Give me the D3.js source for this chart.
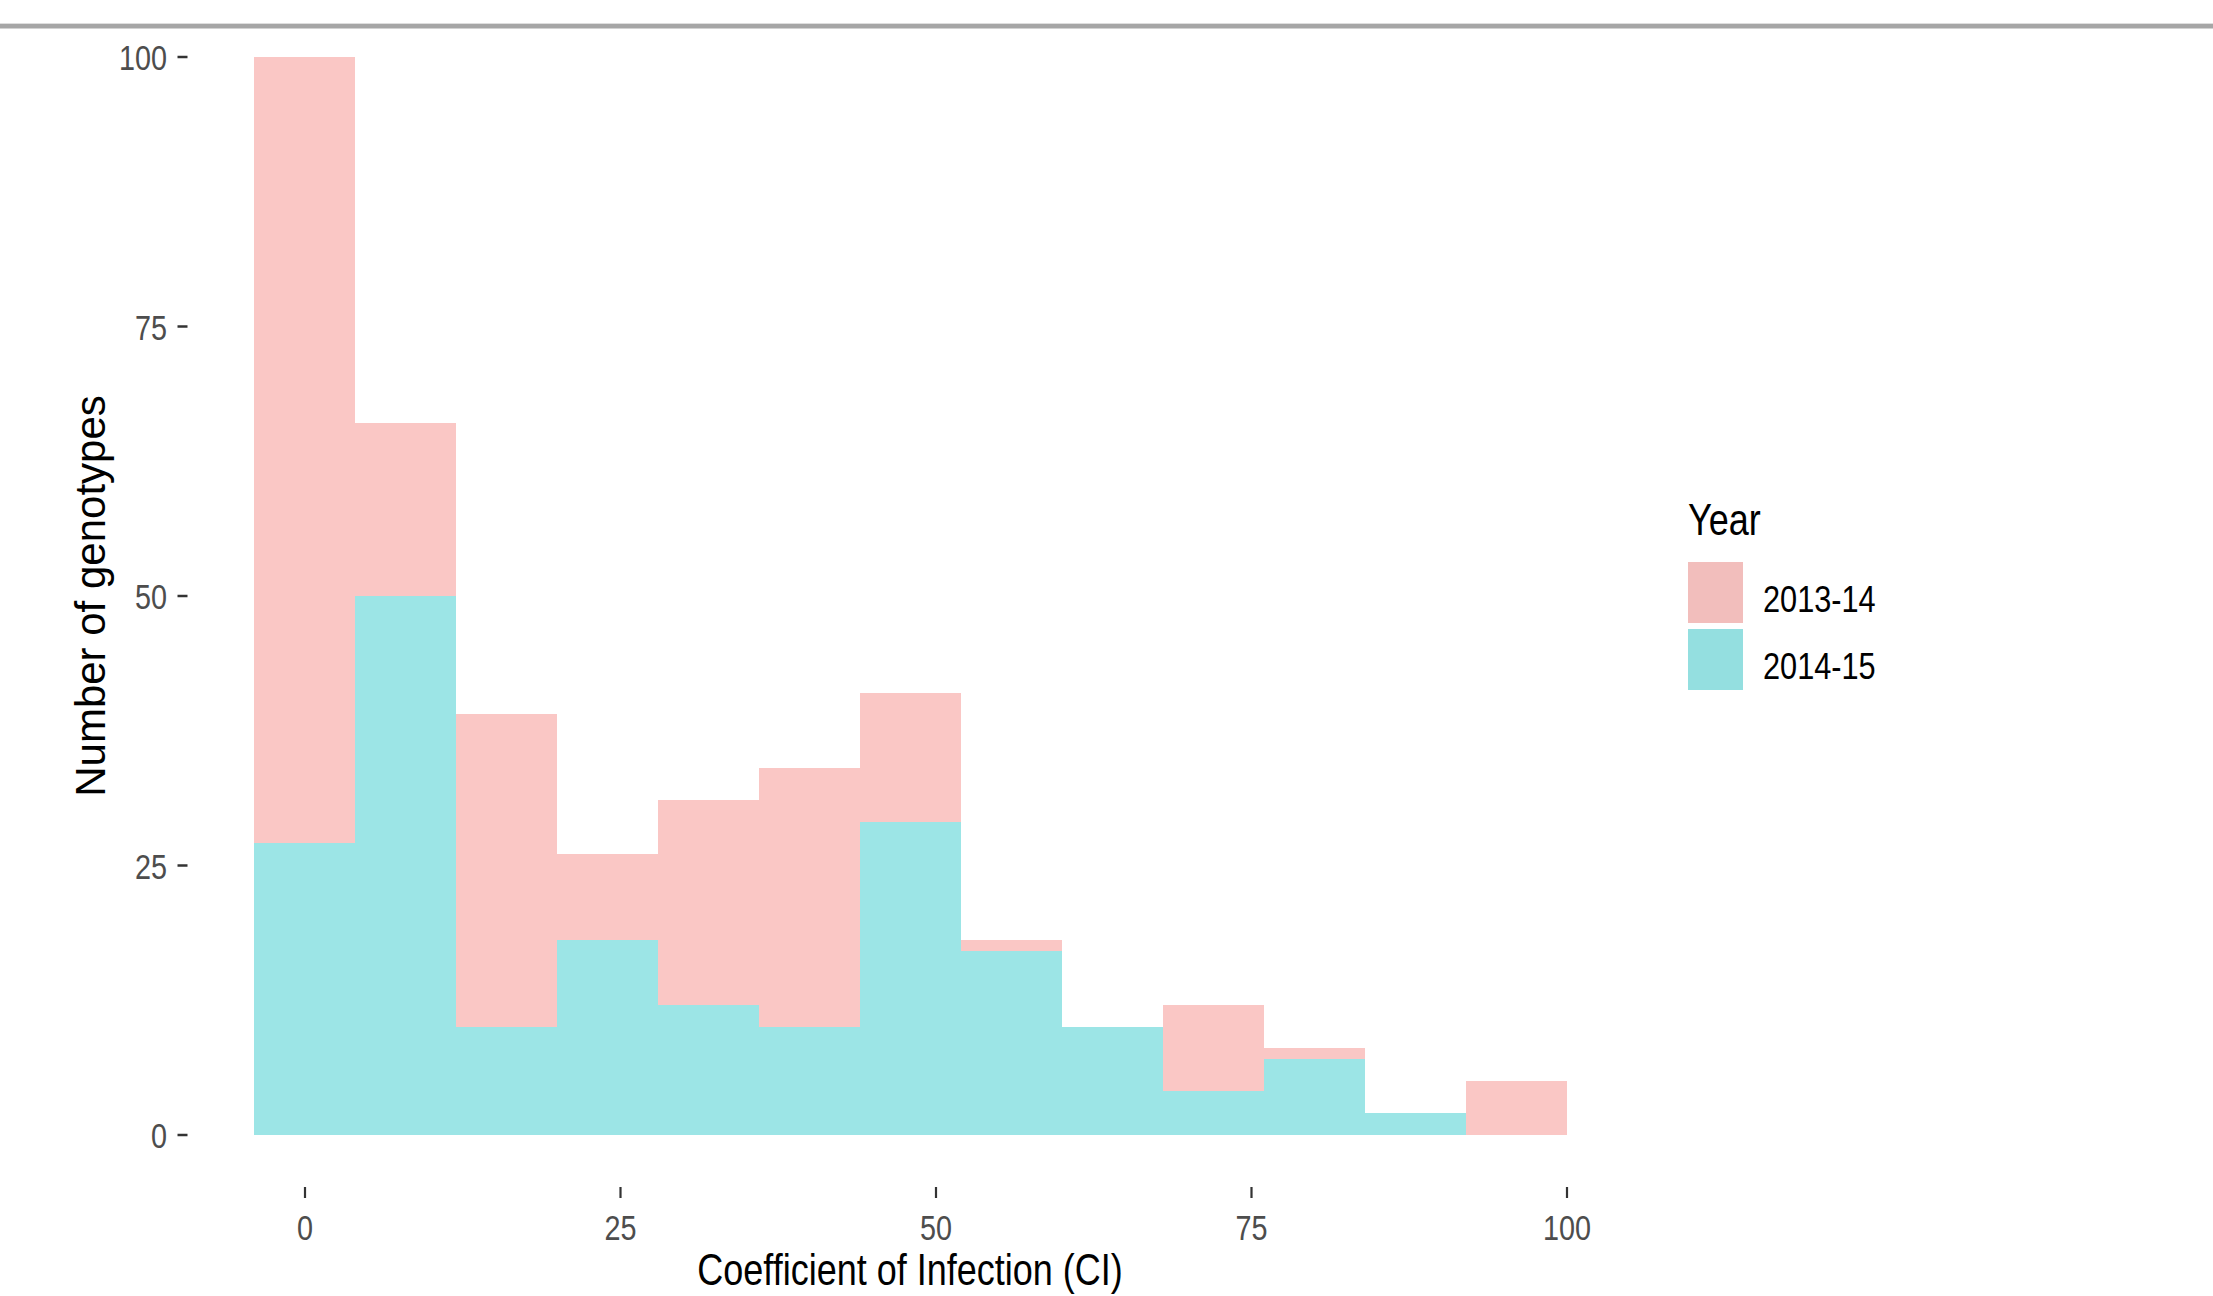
<!DOCTYPE html>
<html>
<head>
<meta charset="utf-8">
<script src="https://cdn.jsdelivr.net/npm/d3@7"></script>
<style>
  html, body { margin: 0; padding: 0; background: #ffffff; }
  svg { display: block; }
  text { font-family: "Liberation Sans", Arial, sans-serif; }
</style>
</head>
<body>
<svg id="chart" width="2213" height="1296"></svg>
<script>
// ---- Data ----
const binStarts = [-4, 4, 12, 20, 28, 36, 44, 52, 60, 68, 76, 84, 92];
const binWidth = 8;
const series = ["2013-14", "2014-15"];
const counts2014_15 = [27, 50, 10, 18, 12, 10, 29, 17, 10, 4, 7, 2, 0];
const counts2013_14 = [73, 16, 29, 8, 19, 24, 12, 1, 0, 8, 1, 0, 5];
const xTicks = [0, 25, 50, 75, 100];
const yTicks = [0, 25, 50, 75, 100];
const xTitle = "Coefficient of Infection (CI)";
const yTitle = "Number of genotypes";
const legendTitle = "Year";

// ---- Styles ----
const barColors = { "2013-14": "#fac7c5", "2014-15": "#9ce5e6" };
const keyColors = { "2013-14": "#f2bebc", "2014-15": "#94dfe0" };
const squeeze = 0.8;

const svg = d3.select("#chart");

// top grey rule
svg.append("rect").attr("x", 0).attr("y", 23).attr("width", 2213).attr("height", 1).attr("fill", "#dedede");
svg.append("rect").attr("x", 0).attr("y", 24).attr("width", 2213).attr("height", 4.5).attr("fill", "#a6a6a6");

const x = d3.scaleLinear().domain([0, 100]).range([304.5, 1566.5]);
const y = d3.scaleLinear().domain([0, 100]).range([1134.5, 56.5]);

// stacked data: 2014-15 at bottom, 2013-14 on top
const rows = binStarts.map((b, i) => ({ start: b, "2014-15": counts2014_15[i], "2013-14": counts2013_14[i] }));
const stack = d3.stack().keys(["2014-15", "2013-14"]);
const stacked = stack(rows);

const gBars = svg.append("g");
stacked.forEach(layer => {
  gBars.selectAll(null)
    .data(layer.filter(d => d[1] - d[0] > 0))
    .enter().append("rect")
    .attr("x", d => x(d.data.start))
    .attr("width", d => x(d.data.start + binWidth) - x(d.data.start))
    .attr("y", d => y(d[1]))
    .attr("height", d => y(d[0]) - y(d[1]))
    .attr("fill", barColors[layer.key])
    .attr("shape-rendering", "crispEdges");
});

// Y axis
const yAxis = svg.append("g")
  .attr("transform", "translate(187.5,0)")
  .call(d3.axisLeft(y).tickValues(yTicks).tickSize(10).tickPadding(10));
yAxis.select(".domain").remove();
yAxis.selectAll(".tick line").attr("stroke", "#333333").attr("stroke-width", 2.5);
yAxis.selectAll(".tick text")
  .attr("x", null).attr("dy", null)
  .attr("transform", "translate(-20.5,13) scale(" + squeeze + ",1)")
  .attr("text-anchor", "end")
  .attr("fill", "#4d4d4d")
  .style("font-size", "36px");

// X axis
const xAxis = svg.append("g")
  .attr("transform", "translate(0,1187)")
  .call(d3.axisBottom(x).tickValues(xTicks).tickSize(11).tickPadding(16));
xAxis.select(".domain").remove();
xAxis.selectAll(".tick line").attr("stroke", "#333333").attr("stroke-width", 2.2);
xAxis.selectAll(".tick text")
  .attr("y", null).attr("dy", null)
  .attr("transform", "translate(0,53) scale(" + squeeze + ",1)")
  .attr("text-anchor", "middle")
  .attr("fill", "#4d4d4d")
  .style("font-size", "36px");

// Axis titles
svg.append("text")
  .attr("transform", "translate(910,1285) scale(" + squeeze + ",1)")
  .attr("text-anchor", "middle")
  .attr("fill", "#000")
  .style("font-size", "45px")
  .text(xTitle);

svg.append("text")
  .attr("transform", "translate(105,596) rotate(-90)")
  .attr("text-anchor", "middle")
  .attr("fill", "#000")
  .style("font-size", "42px")
  .text(yTitle);

// Legend
const leg = svg.append("g");
leg.append("text")
  .attr("transform", "translate(1688,535) scale(" + squeeze + ",1)")
  .attr("fill", "#000")
  .style("font-size", "45px")
  .text(legendTitle);
series.forEach((s, i) => {
  const ky = 562 + i * 67;
  leg.append("rect")
    .attr("x", 1688).attr("y", ky)
    .attr("width", 55).attr("height", 61)
    .attr("fill", keyColors[s]);
  leg.append("text")
    .attr("transform", "translate(1763," + (ky + 50) + ") scale(0.83,1)")
    .attr("fill", "#000")
    .style("font-size", "37px")
    .text(s);
});
</script>
</body>
</html>
